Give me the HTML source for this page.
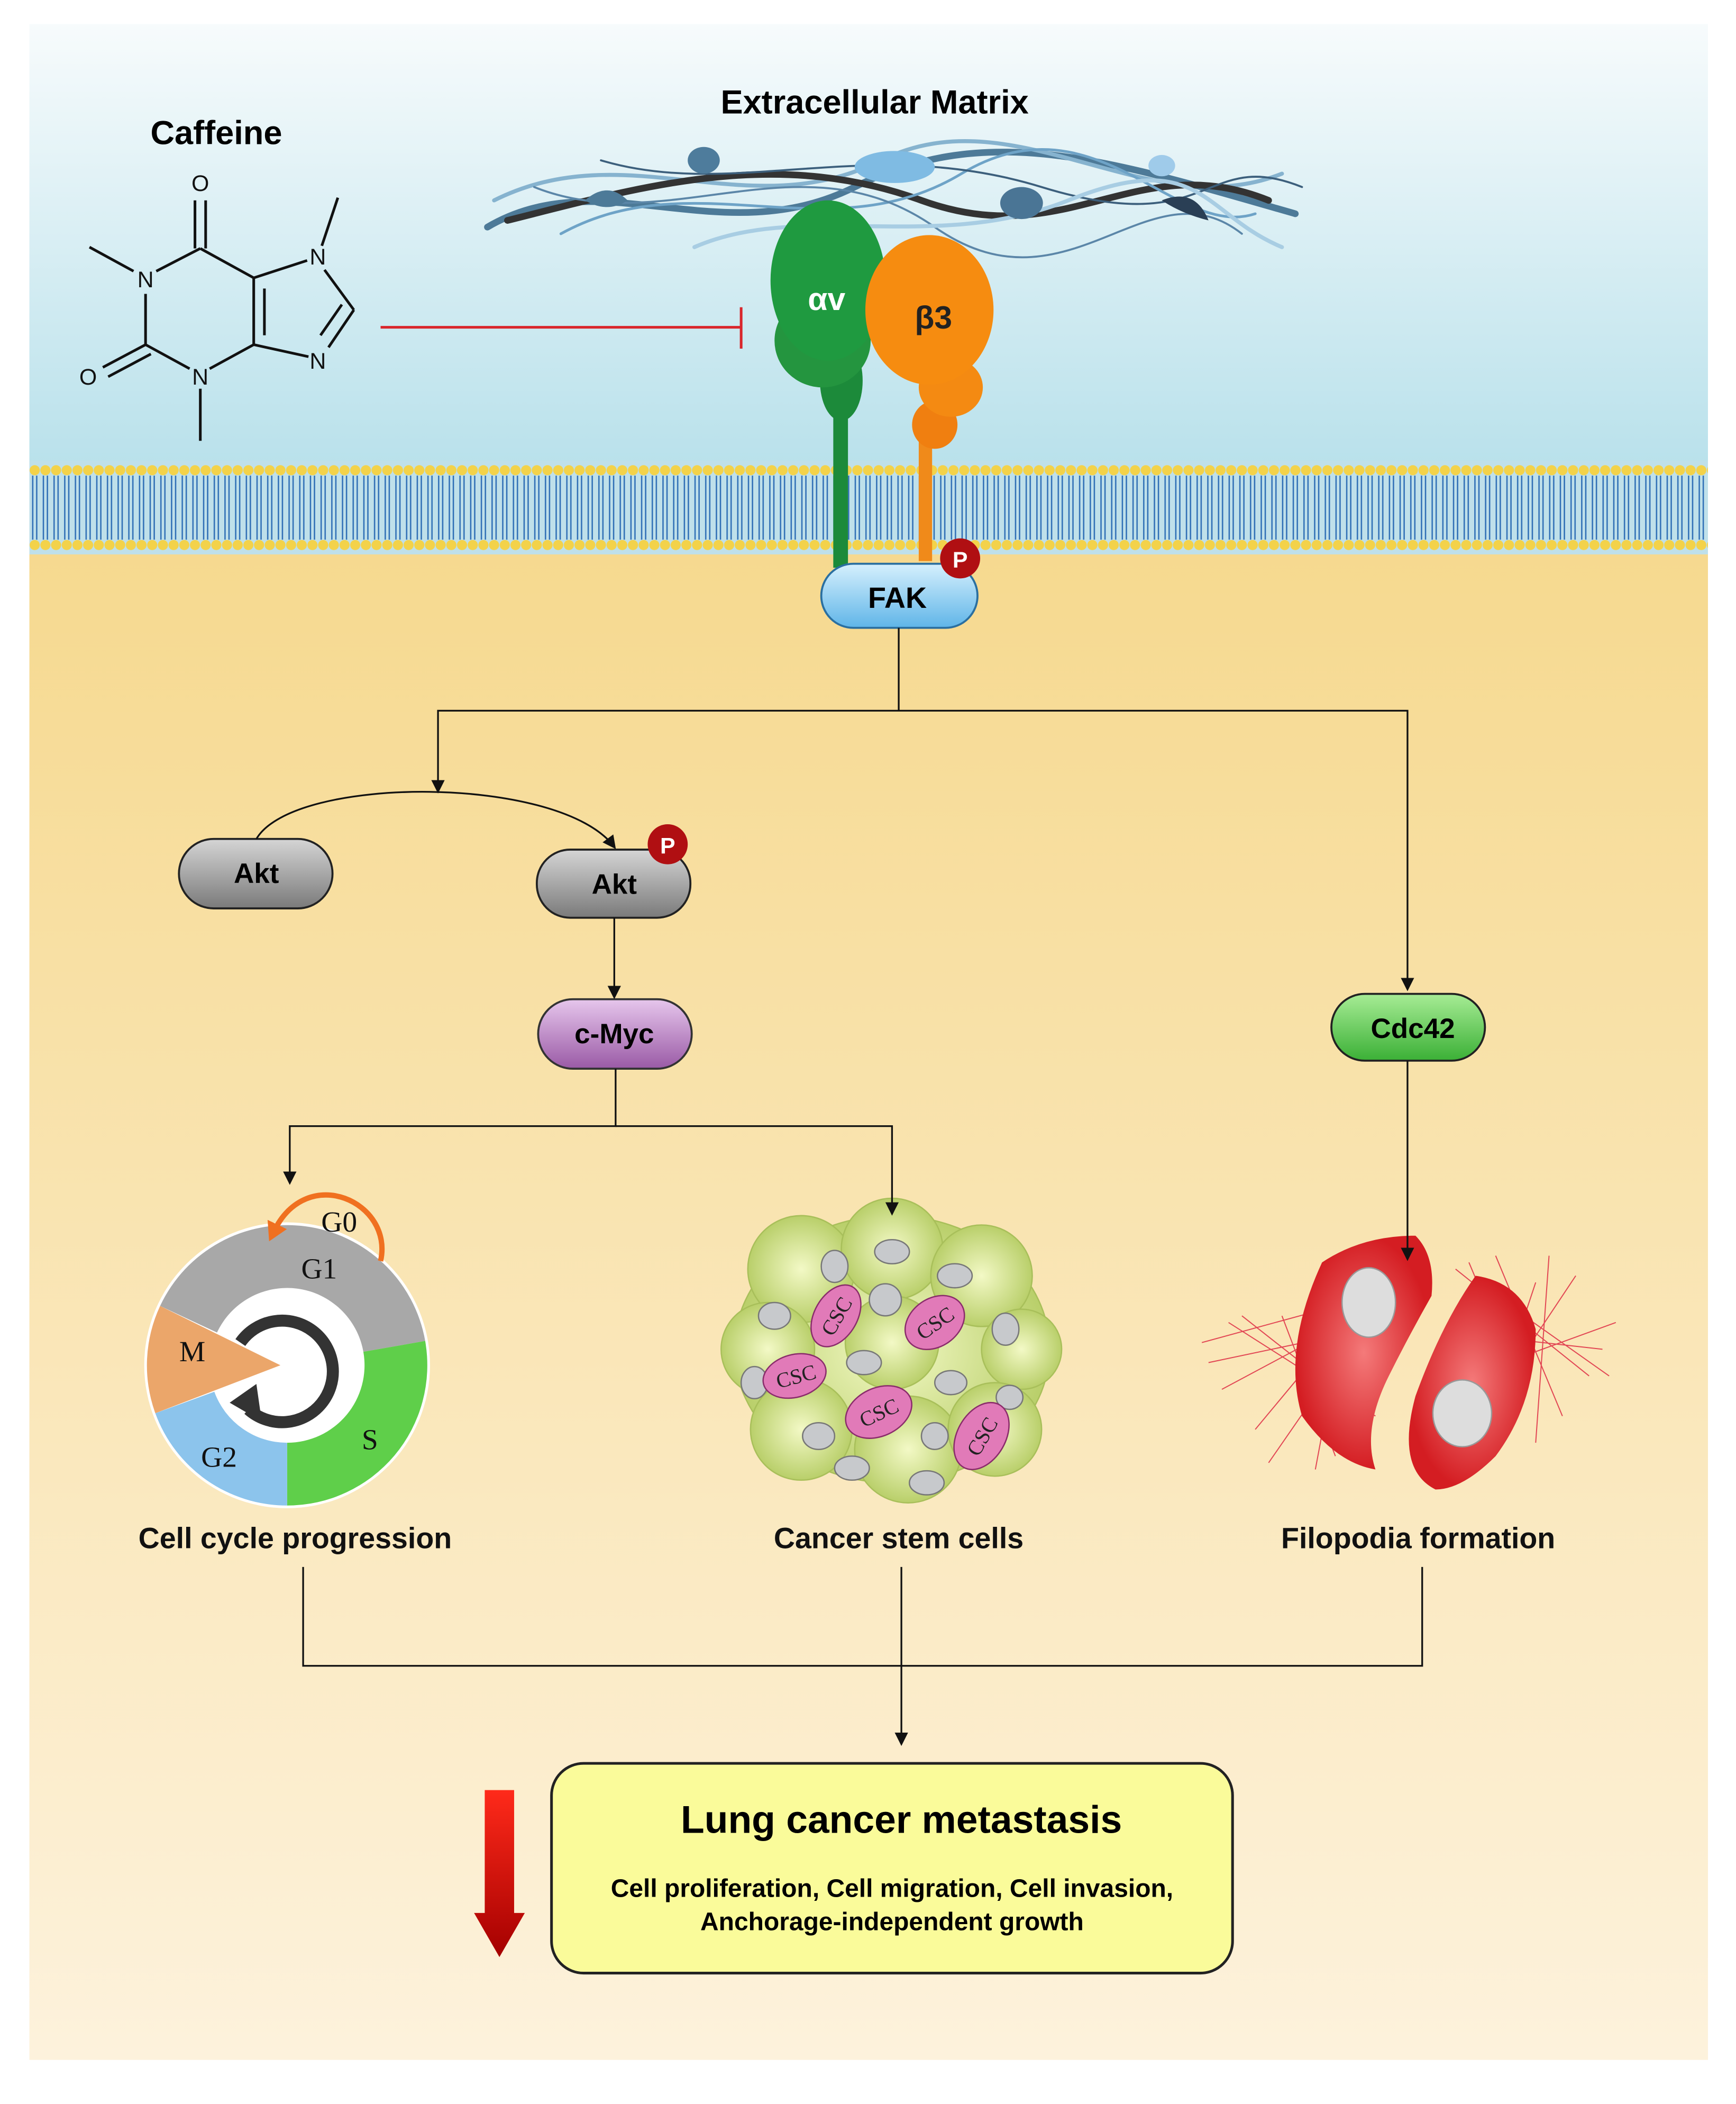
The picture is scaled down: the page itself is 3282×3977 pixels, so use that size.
<!DOCTYPE html>
<html><head><meta charset="utf-8"><style>html,body{margin:0;padding:0;background:#fff}svg{display:block}</style></head>
<body>
<svg width="3282" height="3977" viewBox="0 0 1300 1575" preserveAspectRatio="none" xmlns="http://www.w3.org/2000/svg" font-family="Liberation Sans, sans-serif">
<defs>
<linearGradient id="sky" x1="0" y1="0" x2="0" y2="1"><stop offset="0" stop-color="#f7fbfc"/><stop offset="1" stop-color="#b9e1eb"/></linearGradient>
<linearGradient id="cyto" x1="0" y1="0" x2="0" y2="1"><stop offset="0" stop-color="#f6d98f"/><stop offset="1" stop-color="#fdf2dc"/></linearGradient>
<pattern id="heads" x="22" y="345" width="8" height="70" patternUnits="userSpaceOnUse">
<circle cx="4" cy="7" r="3.8" fill="#f3d24a"/><circle cx="4" cy="63" r="3.8" fill="#f3d24a"/>
<line x1="2.5" y1="11" x2="2.5" y2="59" stroke="#2e6eb5" stroke-width="1"/><line x1="5.5" y1="11" x2="5.5" y2="59" stroke="#2e6eb5" stroke-width="1"/>
</pattern>
<linearGradient id="gray" x1="0" y1="0" x2="0" y2="1"><stop offset="0" stop-color="#d5d5d5"/><stop offset="1" stop-color="#7a7a7a"/></linearGradient>
<linearGradient id="blue" x1="0" y1="0" x2="0" y2="1"><stop offset="0" stop-color="#d6f0fd"/><stop offset="1" stop-color="#5fb5e8"/></linearGradient>
<linearGradient id="purple" x1="0" y1="0" x2="0" y2="1"><stop offset="0" stop-color="#e6c6ec"/><stop offset="1" stop-color="#9a5aa6"/></linearGradient>
<linearGradient id="green" x1="0" y1="0" x2="0" y2="1"><stop offset="0" stop-color="#a7ec95"/><stop offset="1" stop-color="#3bb036"/></linearGradient>
<radialGradient id="cellg"><stop offset="0" stop-color="#f3f9c6"/><stop offset="1" stop-color="#b9cf6a"/></radialGradient>
<radialGradient id="redc"><stop offset="0" stop-color="#f47a7a"/><stop offset="1" stop-color="#d41d22"/></radialGradient>
<linearGradient id="ra" x1="0" y1="0" x2="0" y2="1"><stop offset="0" stop-color="#ff2a1a"/><stop offset="1" stop-color="#a40000"/></linearGradient>
<marker id="ah" markerWidth="10" markerHeight="10" refX="8" refY="5" orient="auto" markerUnits="userSpaceOnUse"><path d="M0,0 L10,5 L0,10 Z" fill="#111"/></marker>
<marker id="oh" markerWidth="16" markerHeight="16" refX="6" refY="8" orient="auto" markerUnits="userSpaceOnUse"><path d="M0,0 L14,8 L0,16 Z" fill="#f07020"/></marker>
</defs>
<rect x="0" y="0" width="1300" height="1575" fill="#fff"/>
<rect x="22" y="18" width="1257" height="330" fill="url(#sky)"/>
<rect x="22" y="410" width="1257" height="1132" fill="url(#cyto)"/>
<rect x="22" y="345" width="1257" height="70" fill="#bfe0ea"/>
<rect x="22" y="345" width="1257" height="70" fill="url(#heads)"/>

<!-- caffeine -->
<text x="162" y="108" font-size="25" font-weight="bold" text-anchor="middle">Caffeine</text>
<g stroke="#111" stroke-width="2" fill="none">
<line x1="146" y1="186" x2="146" y2="150"/><line x1="154" y1="186" x2="154" y2="150"/>
<line x1="67" y1="185" x2="100" y2="203"/>
<line x1="117" y1="203" x2="150" y2="186"/>
<line x1="150" y1="186" x2="190" y2="208"/>
<line x1="190" y1="208" x2="230" y2="195"/>
<line x1="241" y1="184" x2="253" y2="148"/>
<line x1="243" y1="202" x2="265" y2="232"/>
<line x1="265" y1="232" x2="246" y2="260"/><line x1="256" y1="228" x2="240" y2="251"/>
<line x1="231" y1="267" x2="190" y2="258"/>
<line x1="190" y1="208" x2="190" y2="258"/><line x1="198" y1="216" x2="198" y2="251"/>
<line x1="190" y1="258" x2="157" y2="276"/>
<line x1="142" y1="276" x2="109" y2="258"/>
<line x1="109" y1="220" x2="109" y2="258"/>
<line x1="109" y1="258" x2="77" y2="275"/><line x1="113" y1="265" x2="81" y2="282"/>
<line x1="150" y1="291" x2="150" y2="330"/>
</g>
<g font-family="Liberation Sans, sans-serif" font-size="17" text-anchor="middle" fill="#111">
<text x="150" y="143">O</text><text x="109" y="215">N</text><text x="238" y="198">N</text><text x="238" y="276">N</text><text x="150" y="288">N</text><text x="66" y="288">O</text>
</g>
<!-- inhibition -->
<line x1="285" y1="245" x2="555" y2="245" stroke="#d9262b" stroke-width="2"/>
<line x1="555" y1="230" x2="555" y2="261" stroke="#d9262b" stroke-width="2"/>

<!-- ECM -->
<text x="655" y="85" font-size="25" font-weight="bold" text-anchor="middle">Extracellular Matrix</text>
<g fill="none" stroke-linecap="round">
<path d="M365,170 C450,120 540,190 640,140 S830,120 970,160" stroke="#4d7a98" stroke-width="5"/>
<path d="M370,150 C470,100 560,170 660,120 S860,170 960,130" stroke="#86b3cf" stroke-width="3"/>
<path d="M380,165 C480,140 580,110 690,150 S850,110 950,150" stroke="#333" stroke-width="5"/>
<path d="M420,175 C520,120 620,190 720,130 S880,180 940,160" stroke="#6ea3c7" stroke-width="2"/>
<path d="M400,140 C500,180 600,100 700,170 S860,120 930,175" stroke="#5b86a8" stroke-width="1.5"/>
<path d="M450,120 C550,150 650,100 780,140 S900,110 975,140" stroke="#3c5f7c" stroke-width="1.5"/>
<path d="M520,185 C600,150 700,190 800,150 S900,160 960,185" stroke="#a8cde3" stroke-width="3"/>
</g>
<ellipse cx="527" cy="120" rx="12" ry="10" fill="#4e7c9c"/><ellipse cx="670" cy="125" rx="30" ry="12" fill="#7fbbe3"/>
<ellipse cx="765" cy="152" rx="16" ry="12" fill="#4a7595"/><ellipse cx="870" cy="124" rx="10" ry="8" fill="#9fcbea"/>
<path d="M870,150 Q895,140 905,165 Q885,160 870,150Z" fill="#2a3f55"/><path d="M438,150 Q455,135 470,150 Q455,160 438,150Z" fill="#4d7a98"/>

<!-- integrins -->
<rect x="624" y="290" width="11" height="135" fill="#1c8a3a"/>
<rect x="688" y="320" width="10" height="100" fill="#f08a1a"/>
<ellipse cx="630" cy="285" rx="16" ry="30" fill="#1c8a3a"/>
<ellipse cx="616" cy="255" rx="36" ry="35" fill="#24953f"/>
<ellipse cx="620" cy="210" rx="43" ry="60" fill="#1f9a40"/>
<ellipse cx="700" cy="318" rx="17" ry="18" fill="#f07f10"/>
<ellipse cx="712" cy="290" rx="24" ry="22" fill="#f48a12"/>
<ellipse cx="696" cy="232" rx="48" ry="56" fill="#f68c10"/>
<text x="619" y="232" font-size="24" font-weight="bold" fill="#fff" text-anchor="middle">αv</text>
<text x="699" y="246" font-size="24" font-weight="bold" fill="#222" text-anchor="middle">β3</text>

<!-- FAK -->
<rect x="615" y="422" width="117" height="48" rx="24" fill="url(#blue)" stroke="#2a6fa0" stroke-width="1.5"/>
<text x="672" y="455" font-size="22" font-weight="bold" text-anchor="middle">FAK</text>
<circle cx="719" cy="418" r="15" fill="#b00f12"/><text x="719" y="425" font-size="17" font-weight="bold" fill="#fff" text-anchor="middle">P</text>

<!-- Akt -->
<rect x="134" y="628" width="115" height="52" rx="26" fill="url(#gray)" stroke="#222" stroke-width="1.5"/>
<text x="192" y="661" font-size="21" font-weight="bold" text-anchor="middle">Akt</text>
<rect x="402" y="636" width="115" height="51" rx="25" fill="url(#gray)" stroke="#222" stroke-width="1.5"/>
<text x="460" y="669" font-size="21" font-weight="bold" text-anchor="middle">Akt</text>
<circle cx="500" cy="632" r="15" fill="#b00f12"/><text x="500" y="639" font-size="17" font-weight="bold" fill="#fff" text-anchor="middle">P</text>
<rect x="403" y="748" width="115" height="52" rx="26" fill="url(#purple)" stroke="#333" stroke-width="1.5"/>
<text x="460" y="781" font-size="21" font-weight="bold" text-anchor="middle">c-Myc</text>
<rect x="997" y="744" width="115" height="50" rx="25" fill="url(#green)" stroke="#222" stroke-width="1.5"/>
<text x="1058" y="777" font-size="21" font-weight="bold" text-anchor="middle">Cdc42</text>

<!-- cell cycle -->
<circle cx="215" cy="1022" r="107" fill="#fff"/>
<path d="M119.9,977.6 A105,105 0 0 1 318.4,1003.8 L272.1,1011.9 A58,58 0 0 0 162.5,997.5 Z" fill="#a8a8a8"/>
<path d="M318.4,1003.8 A105,105 0 0 1 215,1127 L215,1080 A58,58 0 0 0 272.1,1011.9 Z" fill="#5fcf4a"/>
<path d="M215,1127 A105,105 0 0 1 116.3,1057.9 L160.5,1041.8 A58,58 0 0 0 215,1080 Z" fill="#8cc4ec"/>
<path d="M116.3,1057.9 A105,105 0 0 1 119.9,977.6 L210,1022 Z" fill="#eba66a"/>
<path d="M180,1005 A38,38 0 1 1 186,1055" fill="none" stroke="#333" stroke-width="9"/>
<path d="M172,1050 L192,1036 L196,1064 Z" fill="#333"/>
<path d="M285,944 C295,900 230,870 205,922" fill="none" stroke="#f07020" stroke-width="4" marker-end="url(#oh)"/>
<g font-family="Liberation Serif, serif" font-size="22" fill="#111" text-anchor="middle">
<text x="254" y="922">G0</text><text x="239" y="957">G1</text><text x="144" y="1019">M</text><text x="277" y="1085">S</text><text x="164" y="1098">G2</text>
</g>

<!-- CSC cluster -->
<g stroke="#a8bf5a" stroke-width="1" fill="url(#cellg)">
<ellipse cx="668" cy="1010" rx="118" ry="100"/>
<circle cx="600" cy="950" r="40"/><circle cx="668" cy="935" r="38"/><circle cx="735" cy="955" r="38"/>
<circle cx="575" cy="1010" r="35"/><circle cx="765" cy="1010" r="30"/><circle cx="600" cy="1070" r="38"/>
<circle cx="680" cy="1085" r="40"/><circle cx="745" cy="1070" r="35"/><circle cx="668" cy="1005" r="35"/>
</g>
<g fill="#c7c9cc" stroke="#777" stroke-width="1">
<ellipse cx="668" cy="937" rx="13" ry="9"/><ellipse cx="625" cy="948" rx="10" ry="12"/><ellipse cx="715" cy="955" rx="13" ry="9"/>
<ellipse cx="580" cy="985" rx="12" ry="10"/><ellipse cx="663" cy="973" rx="12" ry="12"/><ellipse cx="753" cy="995" rx="10" ry="12"/>
<ellipse cx="647" cy="1020" rx="13" ry="9"/><ellipse cx="712" cy="1035" rx="12" ry="9"/><ellipse cx="565" cy="1035" rx="10" ry="12"/>
<ellipse cx="613" cy="1075" rx="12" ry="10"/><ellipse cx="638" cy="1099" rx="13" ry="9"/><ellipse cx="694" cy="1110" rx="13" ry="9"/>
<ellipse cx="700" cy="1075" rx="10" ry="10"/><ellipse cx="756" cy="1046" rx="10" ry="9"/>
</g>
<g fill="#e17ab8" stroke="#8a2c6b" stroke-width="1">
<ellipse cx="626" cy="985" rx="16" ry="25" transform="rotate(30 626 985)"/>
<ellipse cx="700" cy="990" rx="18" ry="24" transform="rotate(55 700 990)"/>
<ellipse cx="595" cy="1030" rx="24" ry="16" transform="rotate(-15 595 1030)"/>
<ellipse cx="658" cy="1057" rx="26" ry="18" transform="rotate(-25 658 1057)"/>
<ellipse cx="735" cy="1075" rx="18" ry="27" transform="rotate(30 735 1075)"/>
</g>
<g font-family="Liberation Serif, serif" font-size="16" fill="#222" text-anchor="middle">
<text x="626" y="991" transform="rotate(-60 626 985)">CSC</text>
<text x="700" y="996" transform="rotate(-35 700 990)">CSC</text>
<text x="596" y="1036" transform="rotate(-15 595 1030)">CSC</text>
<text x="658" y="1063" transform="rotate(-25 658 1057)">CSC</text>
<text x="735" y="1081" transform="rotate(-60 735 1075)">CSC</text>
</g>

<!-- filopodia -->
<g stroke="#e0364a" stroke-width="0.8" opacity="0.9">
<path d="M900,1005 L1010,975 M905,1020 L1000,1000 M930,985 L1000,1040 M915,1040 L990,1000 M940,1070 L990,1010 M960,985 L1000,1090 M920,990 L1030,1060 M950,1095 L995,1030 M985,1100 L1000,1020"/>
<path d="M1100,945 L1140,1040 M1120,940 L1170,1060 M1150,960 L1120,1050 M1200,1010 L1110,1000 M1210,990 L1100,1030 M1180,955 L1110,1060 M1090,950 L1190,1030 M1160,940 L1150,1080 M1205,1030 L1120,970"/>
</g>
<path d="M990,945 Q1020,925 1060,925 Q1075,940 1072,970 Q1055,1000 1040,1030 Q1020,1070 1030,1100 Q1000,1095 975,1060 Q960,1010 990,945Z" fill="url(#redc)"/>
<path d="M1060,1045 Q1080,990 1105,955 Q1140,960 1150,995 Q1150,1050 1120,1090 Q1095,1115 1075,1115 Q1045,1100 1060,1045Z" fill="url(#redc)"/>
<ellipse cx="1025" cy="975" rx="20" ry="26" fill="#ddd" stroke="#999"/>
<ellipse cx="1095" cy="1058" rx="22" ry="25" fill="#ddd" stroke="#999"/>

<!-- connectors (drawn on top) -->
<g stroke="#111" stroke-width="1.3" fill="none">
<path d="M673,470 V532 H1054 V740" marker-end="url(#ah)"/>
<path d="M673,532 H328 V592" marker-end="url(#ah)"/>
<path d="M192,628 C220,580 420,580 460,634" marker-end="url(#ah)"/>
<path d="M460,687 V746" marker-end="url(#ah)"/>
<path d="M461,800 V843 H217 V885" marker-end="url(#ah)"/>
<path d="M461,843 H668 V908" marker-end="url(#ah)"/>
<path d="M1054,794 V942" marker-end="url(#ah)"/>
<path d="M227,1173 V1247 H1065 V1173"/>
<path d="M675,1173 V1305" marker-end="url(#ah)"/>
</g>

<!-- labels -->
<g font-size="22" font-weight="bold" text-anchor="middle" fill="#111">
<text x="221" y="1159">Cell cycle progression</text>
<text x="673" y="1159">Cancer stem cells</text>
<text x="1062" y="1159">Filopodia formation</text>
</g>

<!-- result box -->
<rect x="413" y="1320" width="510" height="157" rx="24" fill="#fafb9a" stroke="#222" stroke-width="2"/>
<text x="675" y="1372" font-size="29" font-weight="bold" text-anchor="middle">Lung cancer metastasis</text>
<text x="668" y="1420" font-size="19" font-weight="bold" text-anchor="middle">Cell proliferation, Cell migration, Cell invasion,</text>
<text x="668" y="1445" font-size="19" font-weight="bold" text-anchor="middle">Anchorage-independent growth</text>
<path d="M363,1340 H385 V1432 H393 L374,1465 L355,1432 H363 Z" fill="url(#ra)"/>
</svg>
</body></html>
